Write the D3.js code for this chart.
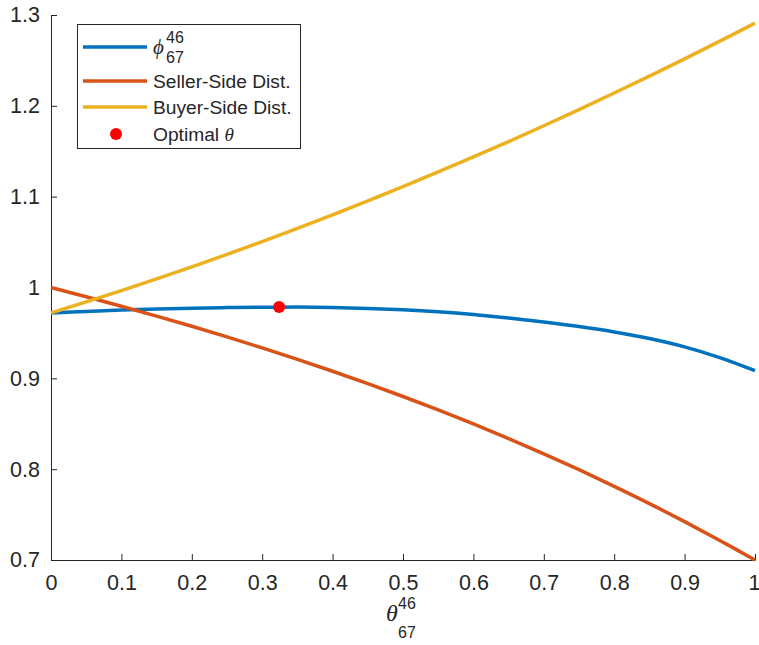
<!DOCTYPE html>
<html>
<head>
<meta charset="utf-8">
<script src="https://cdn.jsdelivr.net/npm/d3@7"></script>
<style>
  html, body { margin: 0; padding: 0; background: #fff; }
  svg { display: block; font-family: "Liberation Sans", Arial, Helvetica, sans-serif; }
</style>
</head>
<body>
<svg id="chart" width="759" height="645"></svg>
<script>
// ---- Data ----
const theta = [0, 0.05, 0.1, 0.15, 0.2, 0.25, 0.3, 0.35, 0.4, 0.45, 0.5,
               0.55, 0.6, 0.65, 0.7, 0.75, 0.8, 0.85, 0.9, 0.95, 1];
const phi = [0.9720, 0.9737, 0.9751, 0.9763, 0.9772, 0.9779, 0.9783, 0.9784, 0.9780, 0.9770, 0.9755,
             0.9733, 0.9703, 0.9664, 0.9620, 0.9570, 0.9511, 0.9439, 0.9347, 0.9228, 0.9084];
const sellerSide = [1.0000, 0.9898, 0.9794, 0.9685, 0.9573, 0.9456, 0.9335, 0.9209, 0.9078, 0.8942, 0.8800,
                    0.8652, 0.8498, 0.8337, 0.8169, 0.7994, 0.7811, 0.7621, 0.7422, 0.7215, 0.7000];
const buyerSide = [0.9720, 0.9841, 0.9965, 1.0094, 1.0227, 1.0364, 1.0505, 1.0650, 1.0799, 1.0953, 1.1110,
                   1.1272, 1.1437, 1.1607, 1.1781, 1.1959, 1.2141, 1.2327, 1.2517, 1.2712, 1.2910];
const optimalTheta = [0.324];
const optimalPhi = [0.9785];
const xTicks = [0, 0.1, 0.2, 0.3, 0.4, 0.5, 0.6, 0.7, 0.8, 0.9, 1];
const yTicks = [0.7, 0.8, 0.9, 1, 1.1, 1.2, 1.3];
const seriesNames = ["Seller-Side Dist.", "Buyer-Side Dist."];
const colors = { phi: "#0072BD", seller: "#D95319", buyer: "#EDB120", opt: "#FF0000" };

// ---- Layout ----
const svg = d3.select("#chart");
const mLeft = 51, mRight = 755, mTop = 15, mBottom = 560;
const x = d3.scaleLinear().domain([0, 1]).range([mLeft, mRight]);
const y = d3.scaleLinear().domain([0.7, 1.3]).range([mBottom, mTop]);
const axisColor = "#262626";
const fontSize = 21.5;
const serif = "Liberation Serif, DejaVu Serif, serif";

// Axes
const fmt = d => String(+d.toFixed(1));
const xAxis = d3.axisBottom(x).tickValues(xTicks).tickSizeInner(-6).tickSizeOuter(0).tickPadding(15).tickFormat(fmt);
const yAxis = d3.axisLeft(y).tickValues(yTicks).tickSizeInner(-6).tickSizeOuter(0).tickPadding(11).tickFormat(fmt);

const gx = svg.append("g").attr("transform", `translate(0,${mBottom})`).call(xAxis);
const gy = svg.append("g").attr("transform", `translate(${mLeft},0)`).call(yAxis);
[gx, gy].forEach(g => {
  g.select(".domain").attr("stroke", axisColor).attr("stroke-width", 1);
  g.selectAll(".tick line").attr("stroke", axisColor);
  g.selectAll(".tick text").attr("fill", axisColor).attr("font-size", fontSize)
    .attr("font-family", "Liberation Sans, Arial, sans-serif");
});
gx.selectAll(".tick text").filter(d => d === 1).attr("dx", -1);

// Lines
const line = d3.line().x((d, i) => x(theta[i])).y(d => y(d)).curve(d3.curveCatmullRom.alpha(0.5));
const plot = svg.append("g");
plot.append("path").datum(phi).attr("d", line).attr("fill", "none")
  .attr("stroke", colors.phi).attr("stroke-width", 3.5).attr("stroke-linejoin", "round");
plot.append("path").datum(sellerSide).attr("d", line).attr("fill", "none")
  .attr("stroke", colors.seller).attr("stroke-width", 3.5).attr("stroke-linejoin", "round");
plot.append("path").datum(buyerSide).attr("d", line).attr("fill", "none")
  .attr("stroke", colors.buyer).attr("stroke-width", 3.5).attr("stroke-linejoin", "round");
plot.selectAll("circle.opt").data(optimalTheta).enter().append("circle")
  .attr("class", "opt")
  .attr("cx", d => x(d)).attr("cy", (d, i) => y(optimalPhi[i])).attr("r", 6)
  .attr("fill", colors.opt);

// X-axis label: θ^{46}_{67}
const xl = svg.append("g").attr("transform", `translate(${(mLeft + mRight) / 2 - 17},0)`);
xl.append("text").attr("x", 0).attr("y", 621).attr("font-size", 24).attr("font-style", "italic")
  .attr("font-family", serif).attr("fill", axisColor).text("θ");
xl.append("text").attr("x", 12).attr("y", 609).attr("font-size", 16).attr("fill", axisColor).text("46");
xl.append("text").attr("x", 12).attr("y", 638).attr("font-size", 16).attr("fill", axisColor).text("67");

// Legend
const lg = svg.append("g");
lg.append("rect").attr("x", 77.5).attr("y", 24.5).attr("width", 223).attr("height", 124)
  .attr("fill", "#fff").attr("stroke", axisColor).attr("stroke-width", 1);
const lx0 = 83, lx1 = 147, tx = 153;
const rows = [
  { yy: 47, color: colors.phi, type: "line" },
  { yy: 81, color: colors.seller, type: "line" },
  { yy: 107, color: colors.buyer, type: "line" },
  { yy: 134, color: colors.opt, type: "dot" }
];
rows.forEach(r => {
  if (r.type === "line") {
    lg.append("line").attr("x1", lx0).attr("x2", lx1).attr("y1", r.yy).attr("y2", r.yy)
      .attr("stroke", r.color).attr("stroke-width", 3.5);
  } else {
    lg.append("circle").attr("cx", (lx0 + lx1) / 2 + 1).attr("cy", r.yy).attr("r", 6).attr("fill", r.color);
  }
});
lg.append("text").attr("x", tx).attr("y", 54).attr("font-size", 21).attr("font-style", "italic")
  .attr("font-family", serif).attr("fill", axisColor).text("ϕ");
lg.append("text").attr("x", tx + 13).attr("y", 43).attr("font-size", 16).attr("fill", axisColor).text("46");
lg.append("text").attr("x", tx + 13).attr("y", 63).attr("font-size", 16).attr("fill", axisColor).text("67");
lg.append("text").attr("x", tx).attr("y", 81).attr("dy", "0.35em").attr("font-size", 19.2)
  .attr("fill", axisColor).text(seriesNames[0]);
lg.append("text").attr("x", tx).attr("y", 107).attr("dy", "0.35em").attr("font-size", 19.2)
  .attr("fill", axisColor).text(seriesNames[1]);
const ot = lg.append("text").attr("x", tx).attr("y", 134).attr("dy", "0.35em").attr("font-size", 19.2)
  .attr("fill", axisColor);
ot.append("tspan").text("Optimal ");
ot.append("tspan").attr("font-style", "italic").attr("font-family", serif).text("θ");
</script>
</body>
</html>
